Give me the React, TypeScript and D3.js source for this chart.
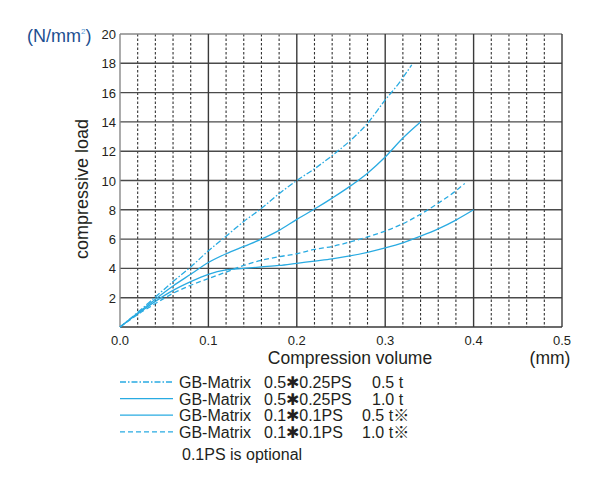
import React from 'react'
import * as d3 from 'd3'

// x values (mm) and compressive load (N/mm2)
const xA = [0, 0.02, 0.04, 0.06, 0.08, 0.1, 0.12, 0.14, 0.16, 0.18, 0.2, 0.22, 0.24, 0.26, 0.28, 0.3, 0.315, 0.33]
const yA = [0, 1.0, 2.05, 3.1, 4.1, 5.2, 6.2, 7.2, 8.1, 9.1, 10.0, 10.8, 11.7, 12.7, 13.9, 15.5, 16.6, 17.9]

const xB = [0, 0.02, 0.04, 0.06, 0.08, 0.1, 0.12, 0.14, 0.16, 0.18, 0.2, 0.22, 0.24, 0.26, 0.28, 0.3, 0.32, 0.34]
const yB = [0, 0.95, 1.9, 2.8, 3.6, 4.4, 5.0, 5.5, 6.0, 6.6, 7.35, 8.05, 8.8, 9.6, 10.5, 11.6, 12.9, 14.0]

const xC = [0, 0.02, 0.04, 0.06, 0.08, 0.1, 0.12, 0.14, 0.16, 0.18, 0.2, 0.22, 0.24, 0.26, 0.28, 0.3, 0.32, 0.34, 0.36, 0.38, 0.4]
const yC = [0, 0.9, 1.75, 2.5, 3.1, 3.6, 3.9, 4.0, 4.1, 4.2, 4.35, 4.5, 4.65, 4.85, 5.1, 5.4, 5.75, 6.2, 6.7, 7.3, 8.0]

const xD = [0, 0.02, 0.04, 0.06, 0.08, 0.1, 0.12, 0.14, 0.16, 0.18, 0.2, 0.22, 0.24, 0.26, 0.28, 0.3, 0.32, 0.34, 0.36, 0.38, 0.39]
const yD = [0, 0.85, 1.6, 2.3, 2.85, 3.3, 3.75, 4.2, 4.55, 4.8, 5.0, 5.3, 5.5, 5.8, 6.15, 6.55, 7.05, 7.7, 8.45, 9.3, 9.8]

const xTicks = [0, 0.1, 0.2, 0.3, 0.4, 0.5]
const yTicks = [2, 4, 6, 8, 10, 12, 14, 16, 18, 20]

const legendNames = ['GB-Matrix', 'GB-Matrix', 'GB-Matrix', 'GB-Matrix']
const legendSpecs = ['0.5✱0.25PS', '0.5✱0.25PS', '0.1✱0.1PS', '0.1✱0.1PS']
const legendThick = ['0.5 t', '1.0 t', '0.5 t※', '1.0 t※']
const dashes = ['6,2,1.5,2', null, null, '5,3']

const blue = '#29abe2'
const ink = '#231f20'
const font = 'Liberation Sans, Arial, Helvetica, "Noto Sans CJK JP", sans-serif'

export default function App() {
  const x = d3.scaleLinear().domain([0, 0.5]).range([120, 562])
  const y = d3.scaleLinear().domain([0, 20]).range([327, 34])

  const line = d3.line<[number, number]>()
    .x(d => x(d[0]))
    .y(d => y(d[1]))
    .curve(d3.curveMonotoneX)

  const series = [
    xA.map((v, i) => [v, yA[i]] as [number, number]),
    xB.map((v, i) => [v, yB[i]] as [number, number]),
    xC.map((v, i) => [v, yC[i]] as [number, number]),
    xD.map((v, i) => [v, yD[i]] as [number, number]),
  ]

  const minor = d3.range(0.02, 0.5, 0.02).filter(v => Math.abs(v * 10 - Math.round(v * 10)) > 0.01)

  return (
    <svg width={600} height={480} style={{ position: 'absolute', left: 0, top: 0, background: 'white' }} fontFamily={font}>
      {/* dashed minor verticals */}
      {minor.map(v => (
        <line key={'m' + v} x1={x(v)} x2={x(v)} y1={y(20)} y2={y(0)} stroke="#333" strokeWidth={1.1} strokeDasharray="2.5,2" />
      ))}
      {/* horizontal grid */}
      {yTicks.map(v => (
        <line key={'h' + v} x1={x(0)} x2={x(0.5)} y1={y(v)} y2={y(v)} stroke={v === 20 ? '#888' : '#4a4a4a'} strokeWidth={1.4} />
      ))}
      {/* solid verticals */}
      {xTicks.map(v => (
        <line key={'v' + v} x1={x(v)} x2={x(v)} y1={y(20)} y2={y(0)} stroke={v === 0 ? '#888' : '#3a3a3a'} strokeWidth={1.4} />
      ))}
      <line x1={x(0)} x2={x(0.5)} y1={y(0)} y2={y(0)} stroke="#3a3a3a" strokeWidth={1.4} />

      {/* curves */}
      {series.map((s, i) => (
        <path key={'s' + i} d={line(s) || ''} fill="none" stroke={blue} strokeWidth={1.3}
          strokeDasharray={dashes[i] || undefined} />
      ))}

      {/* tick labels */}
      {yTicks.map(v => (
        <text key={'yt' + v} x={116} y={y(v) + 5} textAnchor="end" fontSize={13} fill={ink}>{v}</text>
      ))}
      {xTicks.map(v => (
        <text key={'xt' + v} x={x(v)} y={345} textAnchor="middle" fontSize={13} fill={ink}>{v.toFixed(1)}</text>
      ))}

      <text x={27} y={42} fontSize={18} fill="#1d4f91">(N/mm<tspan fontSize={8} dy={-8} fill="#5aa0d8">2</tspan><tspan dy={8}>)</tspan></text>
      <text transform="translate(88,189) rotate(-90)" textAnchor="middle" fontSize={18} fill={ink}>compressive load</text>
      <text x={350} y={364} textAnchor="middle" fontSize={17.5} fill={ink}>Compression volume</text>
      <text x={550} y={364} textAnchor="middle" fontSize={17.5} fill={ink}>(mm)</text>

      {/* legend */}
      {legendNames.map((n, i) => {
        const ly = 382 + i * 16.6
        return (
          <g key={'l' + i}>
            <line x1={120} x2={173} y1={ly} y2={ly} stroke={blue} strokeWidth={1.3} strokeDasharray={dashes[i] || undefined} />
            <text x={179} y={ly + 6} fontSize={16} fill={ink}>{n}</text>
            <text x={264} y={ly + 6} fontSize={16} fill={ink}>{legendSpecs[i]}</text>
            <text x={i < 2 ? 372 : 362} y={ly + 6} fontSize={16} fill={ink}>{legendThick[i]}</text>
          </g>
        )
      })}
      <text x={182} y={460} fontSize={16} fill={ink}>0.1PS is optional</text>
    </svg>
  )
}
